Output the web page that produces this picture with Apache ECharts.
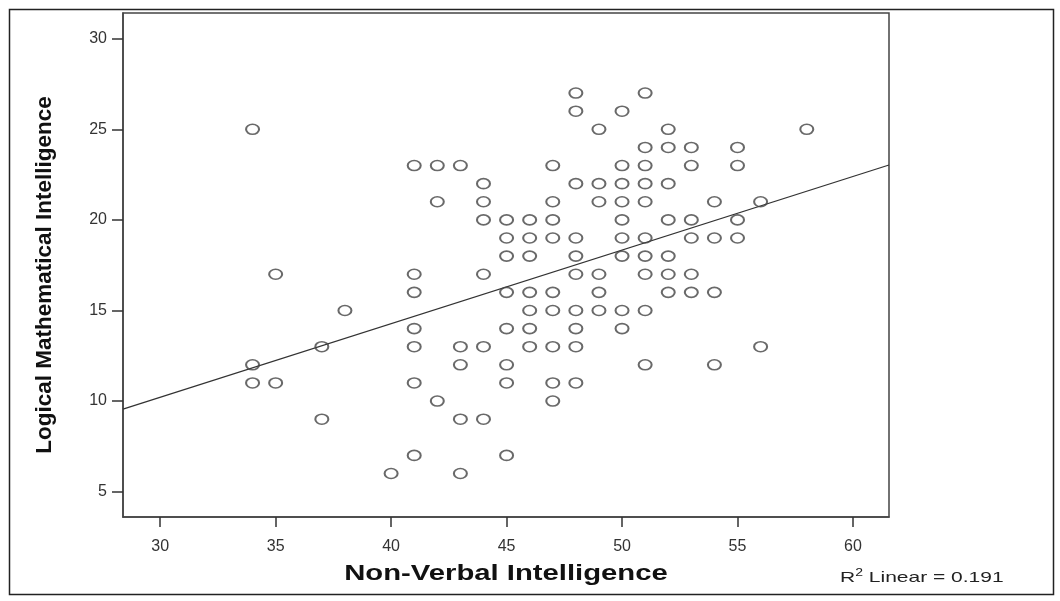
<!DOCTYPE html>
<html><head><meta charset="utf-8">
<script src="https://cdn.jsdelivr.net/npm/echarts@6/dist/echarts.min.js"></script>
<style>html,body{margin:0;padding:0;background:#fff}#c{width:1060px;height:601px}</style>
</head><body><div id="c"></div>
<script>
// Observations: [Non-Verbal Intelligence, Logical Mathematical Intelligence]
const pointsX = [
  48,51, 48,50, 34,49,52,58, 51,52,53,55,
  41,42,43,47,50,51,53,55, 44,48,49,50,51,52,
  42,44,47,49,50,51,54,56, 44,45,46,47,50,52,53,55,
  45,46,47,48,50,51,53,54,55, 45,46,48,50,51,52,
  35,41,44,48,49,51,52,53, 41,45,46,47,49,52,53,54,
  38,46,47,48,49,50,51, 41,45,46,48,50,
  37,41,43,44,46,47,48,56, 34,43,45,51,54,
  34,35,41,45,47,48, 42,47, 37,43,44, 41,45, 40,43
];
const pointsY = [
  27,27, 26,26, 25,25,25,25, 24,24,24,24,
  23,23,23,23,23,23,23,23, 22,22,22,22,22,22,
  21,21,21,21,21,21,21,21, 20,20,20,20,20,20,20,20,
  19,19,19,19,19,19,19,19,19, 18,18,18,18,18,18,
  17,17,17,17,17,17,17,17, 16,16,16,16,16,16,16,16,
  15,15,15,15,15,15,15, 14,14,14,14,14,
  13,13,13,13,13,13,13,13, 12,12,12,12,12,
  11,11,11,11,11,11, 10,10, 9,9,9, 7,7, 6,6
];
// Linear fit line, endpoints at the axis extent
const fitX = [28.39, 61.56];
const fitY = [9.56, 23.03];
const xTicks = [30,35,40,45,50,55,60];
const yTicks = [5,10,15,20,25,30];
const xTitle = 'Non-Verbal Intelligence';
const yTitle = 'Logical Mathematical Intelligence';
const r2Label = ['R', '2', ' Linear = 0.191'];

const scatterData = pointsX.map((x,i)=>[x, pointsY[i]]);
const lineData = fitX.map((x,i)=>[x, fitY[i]]);

const chart = echarts.init(document.getElementById('c'));
const axisCol = '#333';
const font = '"Liberation Sans", Arial, sans-serif';
chart.setOption({
  animation:false,
  backgroundColor:'#fff',
  grid:{left:123, top:13, right:171, bottom:84, show:true, borderColor:'#444', borderWidth:1.5, backgroundColor:'transparent'},
  xAxis:{type:'value', min:28.39, max:61.56, splitLine:{show:false},
    axisLine:{show:true, onZero:false, lineStyle:{color:'#444', width:1.5}},
    axisTick:{show:true, length:10, customValues:xTicks, lineStyle:{color:'#333', width:1.5}},
    axisLabel:{customValues:xTicks, color:axisCol, fontSize:16, margin:22, fontFamily:font}
  },
  yAxis:{type:'value', min:3.6, max:31.42, splitLine:{show:false},
    axisLine:{show:true, onZero:false, lineStyle:{color:'#444', width:1.5}},
    axisTick:{show:true, length:11, customValues:yTicks, lineStyle:{color:'#333', width:1.5}},
    axisLabel:{customValues:yTicks, color:axisCol, fontSize:16, margin:16, fontFamily:font}
  },
  series:[
    {type:'line', data:lineData, symbol:'none', silent:true, z:1,
      lineStyle:{color:'#333', width:1.3}},
    {type:'scatter', data:scatterData, symbol:'circle', symbolSize:[13,10], z:2,
      itemStyle:{color:'rgba(255,255,255,0)', borderColor:'#444', borderWidth:1.8}}
  ],
  graphic:[
    {type:'rect', left:7, top:7, shape:{width:1044, height:585}, silent:true, z:-10,
      style:{fill:'none', stroke:'#222', lineWidth:1.5}},
    {type:'text', x:45, y:275, rotation:Math.PI/2, z:10,
      style:{text:yTitle, align:'center', verticalAlign:'middle', fontSize:22.5, fontWeight:'bold', fill:'#111', fontFamily:font}},
    {type:'text', x:506, y:574, scaleX:1.33, z:10,
      style:{text:xTitle, align:'center', verticalAlign:'middle', fontSize:22, fontWeight:'bold', fill:'#111', fontFamily:font}},
    {type:'text', x:840, y:585, scaleX:1.4, z:10,
      style:{text:'{a|'+r2Label[0]+'}{s|'+r2Label[1]+'}{a|'+r2Label[2]+'}', verticalAlign:'bottom', rich:{
        a:{fontSize:15, fill:'#222', fontFamily:font, verticalAlign:'bottom'},
        s:{fontSize:10, fill:'#222', fontFamily:font, verticalAlign:'top', padding:[0,0,7,0]}
      }}}
  ]
});
</script></body></html>
